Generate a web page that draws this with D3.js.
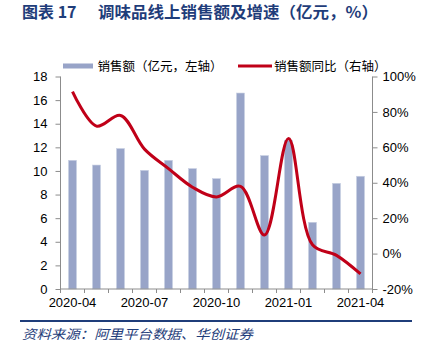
<!DOCTYPE html>
<html><head><meta charset="utf-8">
<script src="https://cdn.jsdelivr.net/npm/d3@7"></script>
<style>body{margin:0;background:#fff}svg{display:block}</style>
</head><body>
<script>
const months = ["2020-04","2020-05","2020-06","2020-07","2020-08","2020-09","2020-10","2020-11","2020-12","2021-01","2021-02","2021-03","2021-04"];
const sales = [10.9,10.5,11.9,10.05,10.9,10.2,9.35,16.6,11.3,12.6,5.65,8.95,9.55];
const growth = [91.5,72,78,59,48,37.5,32,38,10.5,65,5,-1,-11.5];
const leftTicks = [0,2,4,6,8,10,12,14,16,18];
const rightTicks = [-20,0,20,40,60,80,100];
const xLabels = ["2020-04","2020-07","2020-10","2021-01","2021-04"];

const W=432,H=358;
const svg=d3.select("body").append("svg").attr("width",W).attr("height",H);
const L=60.5,R=372.5,T=76.5,B=289;
const x=d3.scaleBand().domain(months).range([L,R]);
const yL=d3.scaleLinear().domain([0,18]).range([B,T]);
const yR=d3.scaleLinear().domain([-20,100]).range([B,T]);
const axisCol="#8c8c8c";
const numFont="'Liberation Sans', Arial, sans-serif";
const cjk="'Noto Sans CJK SC', sans-serif";
const blue="#1f3d7a";

// title
svg.append("text").attr("x",22).attr("y",18).attr("font-family",cjk).attr("font-weight","bold")
  .attr("font-size",16).attr("fill",blue).text("图表 17");
svg.append("text").attr("x",98).attr("y",18).attr("font-family",cjk).attr("font-weight","bold")
  .attr("font-size",16).attr("fill",blue).attr("textLength",280).attr("lengthAdjust","spacingAndGlyphs")
  .text("调味品线上销售额及增速（亿元，%）");

// bars
svg.append("g").selectAll("rect").data(months).join("rect")
  .attr("x",d=>x(d)+x.bandwidth()/2-4).attr("width",8)
  .attr("y",(d,i)=>yL(sales[i])).attr("height",(d,i)=>B-yL(sales[i]))
  .attr("fill","#98a4c8").attr("stroke","#c9d0e3").attr("stroke-width",0.6);

// line
const line=d3.line().x((d,i)=>x(months[i])+x.bandwidth()/2).y(d=>yR(d)).curve(d3.curveCatmullRom.alpha(0.5));
svg.append("path").datum(growth).attr("d",line).attr("fill","none").attr("stroke","#c00018").attr("stroke-width",3);

// left axis
const gl=svg.append("g").attr("transform",`translate(${L},0)`)
  .call(d3.axisLeft(yL).tickValues(leftTicks).tickSize(5).tickPadding(8).tickFormat(d3.format("d")));
// right axis
const gr=svg.append("g").attr("transform",`translate(${R},0)`)
  .call(d3.axisRight(yR).tickValues(rightTicks).tickSize(5).tickPadding(5).tickFormat(d=>d+"%"));
// x axis
const bounds=months.map(m=>x(m)).concat([R]);
const gx=svg.append("g").attr("transform",`translate(0,${B})`);
gx.append("line").attr("x1",L).attr("x2",R).attr("stroke",axisCol);
gx.selectAll("line.t").data(bounds).join("line").attr("class","t")
  .attr("x1",d=>d).attr("x2",d=>d).attr("y1",0).attr("y2",4).attr("stroke",axisCol);
gx.selectAll("text").data(xLabels).join("text")
  .attr("x",d=>x(d)+x.bandwidth()/2).attr("y",18).attr("text-anchor","middle")
  .attr("font-family",numFont).attr("font-size",13).attr("fill","#000").text(d=>d);

[gl,gr].forEach(g=>{
  g.selectAll(".domain").attr("stroke",axisCol);
  g.selectAll(".tick line").attr("stroke",axisCol);
  g.selectAll(".tick text").attr("font-family",numFont).attr("font-size",13).attr("fill","#000");
});
gl.select(".domain").attr("d",`M0,${T}V${B}`);
gr.select(".domain").attr("d",`M0,${T}V${B}`);

// legend
const lg=svg.append("g");
lg.append("rect").attr("x",63).attr("y",63.5).attr("width",30).attr("height",5).attr("fill","#98a4c8");
lg.append("text").attr("x",97.5).attr("y",70.5).attr("font-family",cjk).attr("font-size",12.5).attr("fill","#000")
  .text("销售额（亿元，左轴）");
lg.append("line").attr("x1",238).attr("x2",272).attr("y1",66).attr("y2",66).attr("stroke","#c00018").attr("stroke-width",3);
lg.append("text").attr("x",274).attr("y",70.5).attr("font-family",cjk).attr("font-size",12.5).attr("fill","#000")
  .text("销售额同比（右轴）");

// footer
svg.append("line").attr("x1",20).attr("x2",412).attr("y1",321).attr("y2",321).attr("stroke",blue).attr("stroke-width",1.8);
svg.append("text").attr("x",22).attr("y",339).attr("font-family",cjk).attr("font-style","italic")
  .attr("font-size",13).attr("fill",blue).attr("textLength",231).attr("lengthAdjust","spacingAndGlyphs")
  .text("资料来源：阿里平台数据、华创证券");
</script>
</body></html>
